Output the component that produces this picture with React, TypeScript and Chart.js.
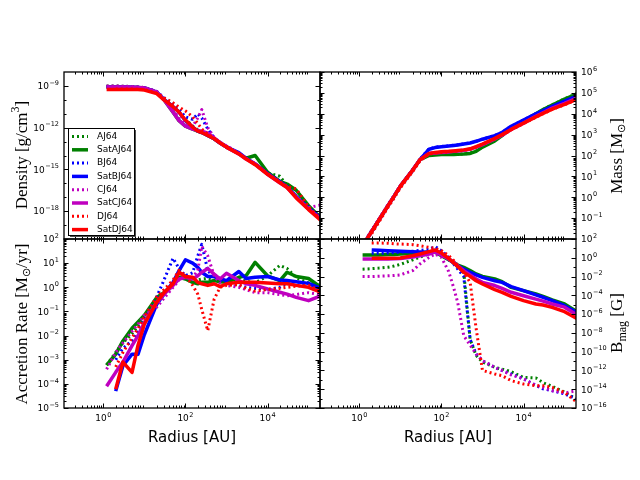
import React, { useEffect, useRef } from "react";
import { Chart, registerables } from "chart.js";

Chart.register(...registerables);

// radius grid shared by every profile [AU]
const radius = [1.2, 2, 3, 5, 7, 10, 20, 30, 50, 70, 100, 150, 200, 250, 350, 500, 700, 1e3, 2e3, 3e3, 5e3, 1e4, 2e4, 3e4, 5e4, 1e5, 2e5];

const runs = ["AJ64", "SatAJ64", "BJ64", "SatBJ64", "CJ64", "SatCJ64", "DJ64", "SatDJ64"];
const runColors = ["#008000", "#008000", "#0000ff", "#0000ff", "#bf00bf", "#bf00bf", "#ff0000", "#ff0000"];

// density [g/cm^3]
const densAJ64 = [1e-9, 1e-9, 9.5e-10, 9e-10, 8.5e-10, 7.5e-10, 3.8e-10, 1.2e-10, 3.5e-11, 1.4e-11, 4e-12, 1.3e-12, 7e-13, 5e-13, 3e-13, 1.6e-13, 8e-14, 4.5e-14, 1.3e-14, 6e-15, 2.5e-15, 5.6e-16, 3.2e-16, 7e-17, 1.2e-17, 1.8e-18, 4e-19];
const densSatAJ64 = [8.3e-10, 8.3e-10, 8.3e-10, 7.9e-10, 7.6e-10, 7.1e-10, 3.5e-10, 1e-10, 1.3e-11, 3.2e-12, 1.3e-12, 7.9e-13, 5.6e-13, 4.5e-13, 2.8e-13, 1.6e-13, 7.9e-14, 4e-14, 1.4e-14, 6.3e-15, 1e-14, 6.3e-16, 1.4e-16, 8.9e-17, 3.2e-17, 2.5e-18, 3.2e-19];
const densBJ64 = [9e-10, 9e-10, 9e-10, 8.5e-10, 8e-10, 7.5e-10, 4e-10, 1.4e-10, 4.5e-11, 2e-11, 6e-12, 4e-12, 1e-11, 5e-12, 8e-13, 1.8e-13, 9e-14, 4.5e-14, 1.4e-14, 6.3e-15, 2.5e-15, 5.6e-16, 1.4e-16, 6e-17, 1.2e-17, 1.8e-18, 3e-19];
const densSatBJ64 = [8.3e-10, 8.3e-10, 8.3e-10, 7.9e-10, 7.6e-10, 7.1e-10, 3.5e-10, 1.1e-10, 3.2e-11, 1.3e-11, 3.2e-12, 1.1e-12, 5.6e-13, 4.5e-13, 2.8e-13, 1.6e-13, 7.9e-14, 4e-14, 1.6e-14, 6.3e-15, 2.5e-15, 5e-16, 1.3e-16, 5.6e-17, 1.1e-17, 1.6e-18, 3.2e-19];
const densCJ64 = [1e-9, 1e-9, 9.5e-10, 9e-10, 8.5e-10, 7.5e-10, 4e-10, 1.3e-10, 2e-11, 5e-12, 2e-12, 1.2e-12, 5e-12, 2e-11, 1e-12, 2e-13, 9e-14, 5e-14, 1.5e-14, 6.3e-15, 2.2e-15, 4.5e-16, 1.1e-16, 5e-17, 1e-17, 1.8e-18, 2.8e-18];
const densSatCJ64 = [8.3e-10, 8.3e-10, 8.3e-10, 7.9e-10, 7.6e-10, 7.1e-10, 3.5e-10, 1e-10, 1.3e-11, 3.2e-12, 1.3e-12, 7.9e-13, 6.3e-13, 5.6e-13, 4e-13, 1.8e-13, 7.9e-14, 4e-14, 1.3e-14, 5.6e-15, 2.5e-15, 4.5e-16, 1.1e-16, 5e-17, 1e-17, 1.4e-18, 2.8e-19];
const densDJ64 = [null, 6e-10, 6e-10, 6e-10, 5.8e-10, 5.5e-10, 3e-10, 1.4e-10, 6e-11, 3e-11, 1.6e-11, 6e-12, 2e-12, 8e-13, 3.5e-13, 1.8e-13, 9e-14, 4.5e-14, 1.4e-14, 6e-15, 2.5e-15, 5e-16, 1.3e-16, 6e-17, 4e-17, 2e-18, 2.5e-19];
const densSatDJ64 = [5.6e-10, 5.6e-10, 5.6e-10, 5.6e-10, 5.6e-10, 5e-10, 2.8e-10, 1e-10, 3.2e-11, 1.3e-11, 3.5e-12, 1.1e-12, 5.6e-13, 4.5e-13, 2.8e-13, 1.6e-13, 7.9e-14, 4e-14, 1.3e-14, 5.6e-15, 2.2e-15, 4.5e-16, 1.1e-16, 5e-17, 8.9e-18, 1.3e-18, 2.2e-19];

// enclosed mass [Msun]
const massAJ64 = [5e-3, 2.5e-2, 8.5e-2, 0.42, 1.15, 3.5, 21, 65, 105, 110, 112, 114, 116, 118, 120, 130, 165, 260, 520, 910, 2000, 4500, 1e4, 1.6e4, 2.7e4, 5.2e4, 9.2e4];
const massSatAJ64 = [4.7e-3, 2.3e-2, 8.1e-2, 0.4, 1.1, 3.4, 20, 63, 100, 107, 112, 112, 112, 115, 117, 126, 158, 251, 501, 891, 1995, 4467, 1e4, 1.58e4, 2.63e4, 5.01e4, 8.91e4];
const massBJ64 = [5e-3, 2.5e-2, 8.5e-2, 0.42, 1.15, 3.5, 21, 66, 210, 250, 270, 290, 310, 330, 360, 400, 480, 610, 900, 1270, 2500, 5000, 1e4, 1.4e4, 2.2e4, 3.9e4, 7e4];
const massSatBJ64 = [4.7e-3, 2.3e-2, 8.1e-2, 0.4, 1.1, 3.4, 20, 63, 200, 240, 263, 282, 302, 316, 355, 398, 479, 603, 891, 1259, 2512, 5012, 1e4, 1.41e4, 2.24e4, 3.98e4, 7.08e4];
const massCJ64 = [5.5e-3, 2.6e-2, 9e-2, 0.45, 1.2, 3.6, 21, 64, 128, 135, 143, 150, 160, 168, 180, 200, 250, 330, 620, 920, 1750, 3500, 7500, 1.1e4, 1.8e4, 3.1e4, 5.5e4];
const massSatCJ64 = [4.7e-3, 2.3e-2, 8.1e-2, 0.4, 1.1, 3.4, 20, 63, 126, 132, 141, 148, 158, 166, 178, 200, 251, 331, 631, 933, 1778, 3548, 7586, 1.12e4, 1.86e4, 3.16e4, 5.62e4];
const massDJ64 = [null, 1.8e-2, 6.5e-2, 0.33, 0.9, 2.8, 17, 55, 115, 130, 140, 148, 156, 165, 178, 200, 250, 340, 630, 950, 1700, 3400, 6800, 1e4, 1.6e4, 2.7e4, 4.8e4];
const massSatDJ64 = [4.7e-3, 2.3e-2, 8.1e-2, 0.4, 1.1, 3.4, 20, 63, 126, 141, 151, 158, 166, 174, 186, 209, 263, 355, 661, 1000, 1778, 3548, 7079, 1.05e4, 1.66e4, 2.82e4, 5.01e4];

// accretion rate [Msun/yr]
const accAJ64 = [6e-4, 2e-3, 5e-3, 1.2e-2, 2.5e-2, 5e-2, 0.2, 0.5, 1.2, 2.5, 3, 2, 2, 2.2, 2.3, 2, 1.8, 2, 2.2, 1.8, 1.5, 3, 8, 6, 2.5, 1.5, 1.2];
const accSatAJ64 = [6e-4, 1.7e-3, 6e-3, 2e-2, 3.7e-2, 7e-2, 0.38, 0.6, 1.4, 2.6, 2.2, 1.6, 1.4, 1.6, 1.6, 1.9, 1.7, 1.6, 2.6, 3, 10.8, 3, 1.9, 4.2, 2.8, 2.3, 1];
const accBJ64 = [null, 1e-3, 3e-3, 6e-3, 1.5e-2, 5e-2, 0.4, 2, 16, 6, 3, 4, 20, 60, 5, 2.5, 2, 1.5, 1.2, 1, 0.9, 0.8, 1, 1.5, 1.2, 1.5, 0.7];
const accSatBJ64 = [null, 5e-5, 5.6e-4, 1.7e-3, 1.7e-3, 1.1e-2, 0.2, 0.52, 1.6, 4.9, 13.8, 10, 6.7, 4.2, 2.8, 2.8, 2.3, 1.9, 4.5, 2.3, 2.6, 2.8, 2, 1.9, 1.7, 1.45, 0.9];
const accCJ64 = [4e-4, 2e-3, 5e-3, 1.5e-2, 3e-2, 7e-2, 0.15, 0.35, 1, 2, 3, 2.5, 5, 50, 20, 3, 1.5, 1.2, 1, 0.8, 0.6, 0.6, 0.5, 0.45, 0.5, 0.6, 0.5];
const accSatCJ64 = [8e-5, 3e-4, 8e-4, 3.8e-3, 1e-2, 3.5e-2, 0.24, 0.52, 1.2, 2.2, 2.6, 2.2, 3, 4.2, 6, 3.5, 2.2, 3.8, 1.9, 1.4, 1.2, 0.85, 0.62, 0.52, 0.38, 0.28, 0.45];
const accDJ64 = [null, 5e-4, 2e-3, 8e-3, 2e-2, 6e-2, 0.4, 0.8, 2, 5, 3, 1.2, 0.52, 0.12, 0.016, 0.32, 1, 1.2, 1.3, 0.9, 0.7, 0.8, 0.9, 1, 1.1, 1.2, 0.7];
const accSatDJ64 = [null, 6e-5, 8e-4, 3e-4, 4e-3, 3e-2, 0.24, 0.6, 1.4, 4.2, 2.8, 2.6, 1.6, 1.4, 1.2, 1.4, 1.07, 1.4, 1.6, 1.6, 1.6, 1.5, 1.4, 1.4, 1.2, 1, 0.62];

// magnetic field strength [G]
const bAJ64 = [0.06, 0.07, 0.08, 0.1, 0.13, 0.2, 0.6, 1.2, 2.5, 4, 2, 0.6, 0.25, 0.1, 0.03, 2e-9, 4e-11, 8e-12, 2.1e-12, 1.4e-12, 7.4e-13, 1.8e-13, 1.6e-13, 5e-14, 2e-14, 5e-15, 8e-16];
const bSatAJ64 = [2, 2, 2, 2.2, 2.3, 2.5, 3, 3.5, 3.8, 4, 1.7, 0.63, 0.32, 0.17, 0.095, 0.043, 0.019, 0.0105, 5.5e-3, 2.9e-3, 7e-4, 3.2e-4, 1.4e-4, 7.9e-5, 3.2e-5, 1.2e-5, 1.8e-6];
const bBJ64 = [null, 3, 3, 3.2, 3.5, 4, 5, 6, 8, 16, 5.7, 1.1, 0.22, 0.063, 0.01, 2e-9, 5.6e-11, 1.1e-11, 2.1e-12, 1e-12, 4.2e-13, 1.3e-13, 2.5e-14, 1.1e-14, 7e-15, 3.2e-15, 9e-16];
const bSatBJ64 = [null, 6.8, 6.2, 5.7, 5.3, 5, 4.5, 4.2, 3.8, 4.5, 2.5, 0.74, 0.28, 0.14, 0.063, 0.028, 0.015, 8.3e-3, 3.6e-3, 2.4e-3, 8.4e-4, 3.2e-4, 1.1e-4, 6.2e-5, 2.7e-5, 7.9e-6, 1.5e-6];
const bCJ64 = [0.01, 0.01, 0.011, 0.012, 0.013, 0.015, 0.043, 0.22, 1.1, 2.5, 1.1, 0.035, 6e-4, 1.6e-5, 5e-9, 5e-10, 5.6e-11, 1.1e-11, 2.1e-12, 1e-12, 3.3e-13, 1.3e-13, 2.5e-14, 1.6e-14, 7e-15, 4e-15, 7e-15];
const bSatCJ64 = [0.75, 0.75, 0.75, 0.75, 0.8, 0.85, 1.2, 1.6, 2.5, 4, 2, 0.74, 0.32, 0.14, 0.043, 0.015, 5.5e-3, 2.4e-3, 1.1e-3, 5.6e-4, 2.1e-4, 9e-5, 4e-5, 2.4e-5, 1.2e-5, 5.5e-6, 8e-7];
const bDJ64 = [null, 37, 37, 35, 31, 29, 25, 19, 13, 10, 5.7, 1.7, 0.49, 0.14, 0.028, 2.4e-3, 3e-8, 1e-12, 4.2e-13, 2.8e-13, 8.1e-14, 3.6e-14, 2.4e-14, 2.4e-14, 1.6e-14, 4.7e-15, 4e-16];
const bSatDJ64 = [null, 0.9, 0.9, 0.9, 0.9, 0.95, 1.7, 2.5, 4.5, 6.8, 3.2, 0.87, 0.28, 0.12, 0.028, 0.0105, 3.6e-3, 1.6e-3, 4e-4, 2.1e-4, 7.9e-5, 2.7e-5, 1.2e-5, 9.3e-6, 5.2e-6, 1.8e-6, 3.5e-7];

// tick label exponents
const xLabelExps = [0, 2, 4];
const densityLabelExps = [-9, -12, -15, -18];
const massLabelExps = [-1, 0, 1, 2, 3, 4, 5, 6];
const accretionLabelExps = [-5, -4, -3, -2, -1, 0, 1, 2];
const bmagLabelExps = [-16, -14, -12, -10, -8, -6, -4, -2, 0, 2];

const X_MIN = 0.11;
const X_MAX = 1.9e5;

const INK = "#000";
const SANS = '"DejaVu Sans", sans-serif';
const SERIF = '"Liberation Serif", serif';

type Part = { text: string; size: number; dy: number };

type PanelCfg = {
  id: string;
  box: { left: number; top: number; right: number; bottom: number };
  yMin: number;
  yMax: number;
  yLabels: number[];
  yMinor: "subs" | "decades";
  ySide: "left" | "right";
  xLabels: boolean;
  legend: boolean;
  title: Part[];
  titleAt: [number, number];
  series: (number | null)[][];
};

function powerLabel(ctx: CanvasRenderingContext2D, e: number, x: number, y: number, align: string) {
  const exp = e < 0 ? "\u2212" + Math.abs(e) : String(e);
  ctx.font = `9px ${SANS}`;
  const wBase = ctx.measureText("10").width;
  ctx.font = `6.5px ${SANS}`;
  const wExp = ctx.measureText(exp).width;
  const w = wBase + 0.5 + wExp;
  const left = align === "left" ? x : align === "right" ? x - w : x - w / 2;
  ctx.textAlign = "left";
  ctx.textBaseline = "alphabetic";
  ctx.font = `9px ${SANS}`;
  ctx.fillText("10", left, y + 3.3);
  ctx.font = `6.5px ${SANS}`;
  ctx.fillText(exp, left + wBase + 0.5, y - 1.2);
}

function richText(ctx: CanvasRenderingContext2D, parts: Part[], family: string, cx: number, cy: number, vertical: boolean) {
  ctx.save();
  ctx.translate(cx, cy);
  if (vertical) ctx.rotate(-Math.PI / 2);
  ctx.textAlign = "left";
  ctx.textBaseline = "alphabetic";
  let w = 0;
  for (const p of parts) {
    ctx.font = `${p.size}px ${family}`;
    w += ctx.measureText(p.text).width;
  }
  let x = -w / 2;
  for (const p of parts) {
    ctx.font = `${p.size}px ${family}`;
    ctx.fillText(p.text, x, p.dy);
    x += ctx.measureText(p.text).width;
  }
  ctx.restore();
}

// matplotlib-like frame: inward ticks on all four sides, power-of-ten labels, titles, legend
const axesPlugin = (cfg: PanelCfg) => ({
  id: "mplAxes" + cfg.id,
  afterDatasetsDraw(chart: any) {
    const { ctx, chartArea: a } = chart;
    const xs = chart.scales.x;
    const ys = chart.scales.y;
    ctx.save();
    ctx.strokeStyle = INK;
    ctx.lineWidth = 1;
    ctx.setLineDash([]);
    ctx.beginPath();
    const vTick = (v: number, len: number) => {
      const px = Math.round(xs.getPixelForValue(v)) + 0.5;
      ctx.moveTo(px, a.bottom);
      ctx.lineTo(px, a.bottom - len);
      ctx.moveTo(px, a.top);
      ctx.lineTo(px, a.top + len);
    };
    const hTick = (v: number, len: number) => {
      const py = Math.round(ys.getPixelForValue(v)) + 0.5;
      ctx.moveTo(a.left, py);
      ctx.lineTo(a.left + len, py);
      ctx.moveTo(a.right, py);
      ctx.lineTo(a.right - len, py);
    };
    xLabelExps.forEach((e) => vTick(10 ** e, 4.5));
    for (let e = -1; e <= 5; e++) {
      for (let m = 2; m <= 9; m++) {
        const v = m * 10 ** e;
        if (v > X_MIN && v < X_MAX) vTick(v, 2.5);
      }
    }
    const eLo = Math.round(Math.log10(cfg.yMin));
    const eHi = Math.round(Math.log10(cfg.yMax));
    cfg.yLabels.forEach((e) => hTick(10 ** e, 4.5));
    for (let e = eLo; e <= eHi; e++) {
      if (cfg.yMinor === "decades") {
        if (!cfg.yLabels.includes(e) && e > eLo && e < eHi) hTick(10 ** e, 2.5);
      } else if (e < eHi) {
        for (let m = 2; m <= 9; m++) hTick(m * 10 ** e, 2.5);
      }
    }
    ctx.stroke();
    ctx.lineWidth = 1.3;
    ctx.strokeRect(a.left, a.top, a.right - a.left, a.bottom - a.top);

    ctx.fillStyle = INK;
    cfg.yLabels.forEach((e) => {
      const py = ys.getPixelForValue(10 ** e);
      if (cfg.ySide === "left") powerLabel(ctx, e, a.left - 5, py, "right");
      else powerLabel(ctx, e, a.right + 5, py, "left");
    });
    if (cfg.xLabels) {
      xLabelExps.forEach((e) => powerLabel(ctx, e, xs.getPixelForValue(10 ** e), a.bottom + 10, "center"));
      richText(ctx, [{ text: "Radius [AU]", size: 15, dy: 5.5 }], SANS, (a.left + a.right) / 2, 436, false);
    }
    richText(ctx, cfg.title, SERIF, cfg.titleAt[0], cfg.titleAt[1], true);

    if (cfg.legend) {
      const lx = 68;
      const ly = 128;
      const lw = 66;
      const lh = 107;
      ctx.fillStyle = "#4d4d4d";
      ctx.fillRect(lx + 2, ly + 2, lw, lh);
      ctx.fillStyle = "#fff";
      ctx.fillRect(lx, ly, lw, lh);
      ctx.strokeStyle = INK;
      ctx.lineWidth = 1;
      ctx.strokeRect(lx + 0.5, ly + 0.5, lw, lh);
      chart.data.datasets.forEach((ds: any, i: number) => {
        const y = ly + 8.5 + i * 13.3;
        ctx.beginPath();
        ctx.setLineDash(ds.borderDash);
        ctx.lineWidth = ds.borderWidth;
        ctx.strokeStyle = ds.borderColor;
        ctx.moveTo(lx + 4, y);
        ctx.lineTo(lx + 20, y);
        ctx.stroke();
        ctx.setLineDash([]);
        ctx.fillStyle = INK;
        ctx.font = `9px ${SANS}`;
        ctx.textAlign = "left";
        ctx.textBaseline = "middle";
        ctx.fillText(ds.label, lx + 29, y);
      });
    }
    ctx.restore();
  },
});

function buildDatasets(series: (number | null)[][]) {
  return series.map((vals, i) => {
    const solid = i % 2 === 1;
    return {
      label: runs[i],
      data: radius.map((r, j) => ({ x: r, y: vals[j] })),
      borderColor: runColors[i],
      borderWidth: solid ? 3.5 : 3,
      borderDash: solid ? [] : [2, 3],
      borderJoinStyle: "round" as const,
      pointRadius: 0,
      tension: 0,
      fill: false,
      order: series.length - i,
    };
  });
}

const panels: PanelCfg[] = [
  {
    id: "density",
    box: { left: 64, top: 72, right: 320, bottom: 239 },
    yMin: 1e-20,
    yMax: 1e-8,
    yLabels: densityLabelExps,
    yMinor: "decades",
    ySide: "left",
    xLabels: false,
    legend: true,
    title: [
      { text: "Density [g/cm", size: 17, dy: 5.5 },
      { text: "3", size: 12, dy: -2.5 },
      { text: "]", size: 17, dy: 5.5 },
    ],
    titleAt: [21, 155],
    series: [densAJ64, densSatAJ64, densBJ64, densSatBJ64, densCJ64, densSatCJ64, densDJ64, densSatDJ64],
  },
  {
    id: "mass",
    box: { left: 320, top: 72, right: 576, bottom: 239 },
    yMin: 1e-2,
    yMax: 1e6,
    yLabels: massLabelExps,
    yMinor: "subs",
    ySide: "right",
    xLabels: false,
    legend: false,
    title: [
      { text: "Mass [M", size: 17, dy: 5.5 },
      { text: "\u2299", size: 11, dy: 9 },
      { text: "]", size: 17, dy: 5.5 },
    ],
    titleAt: [616, 156],
    series: [massAJ64, massSatAJ64, massBJ64, massSatBJ64, massCJ64, massSatCJ64, massDJ64, massSatDJ64],
  },
  {
    id: "accretion",
    box: { left: 64, top: 239, right: 320, bottom: 408 },
    yMin: 1e-5,
    yMax: 1e2,
    yLabels: accretionLabelExps,
    yMinor: "subs",
    ySide: "left",
    xLabels: true,
    legend: false,
    title: [
      { text: "Accretion Rate [M", size: 17, dy: 5.5 },
      { text: "\u2299", size: 11, dy: 9 },
      { text: "/yr]", size: 17, dy: 5.5 },
    ],
    titleAt: [21, 324],
    series: [accAJ64, accSatAJ64, accBJ64, accSatBJ64, accCJ64, accSatCJ64, accDJ64, accSatDJ64],
  },
  {
    id: "bmag",
    box: { left: 320, top: 239, right: 576, bottom: 408 },
    yMin: 1e-16,
    yMax: 1e2,
    yLabels: bmagLabelExps,
    yMinor: "decades",
    ySide: "right",
    xLabels: true,
    legend: false,
    title: [
      { text: "B", size: 17, dy: 5.5 },
      { text: "mag", size: 12, dy: 10 },
      { text: " [G]", size: 17, dy: 5.5 },
    ],
    titleAt: [616, 323],
    series: [bAJ64, bSatAJ64, bBJ64, bSatBJ64, bCJ64, bSatCJ64, bDJ64, bSatDJ64],
  },
];

const Panel: React.FC<{ cfg: PanelCfg }> = ({ cfg }) => {
  const canvasRef = useRef<HTMLCanvasElement | null>(null);

  useEffect(() => {
    if (!canvasRef.current) return;
    const b = cfg.box;
    const chart = new Chart(canvasRef.current, {
      type: "line",
      data: { datasets: buildDatasets(cfg.series) as any },
      options: {
        responsive: false,
        animation: false,
        layout: { padding: { left: b.left, top: b.top, right: 640 - b.right, bottom: 480 - b.bottom } },
        plugins: { legend: { display: false }, tooltip: { enabled: false } },
        scales: {
          x: { type: "logarithmic", min: X_MIN, max: X_MAX, display: false },
          y: { type: "logarithmic", min: cfg.yMin, max: cfg.yMax, display: false },
        },
      },
      plugins: [axesPlugin(cfg)],
    });
    return () => chart.destroy();
  }, [cfg]);

  return <canvas ref={canvasRef} width={640} height={480} style={{ position: "absolute", left: 0, top: 0 }} />;
};

export default function App() {
  return (
    <div style={{ position: "absolute", left: 0, top: 0, width: 640, height: 480, background: "#fff" }}>
      {panels.map((p) => (
        <Panel key={p.id} cfg={p} />
      ))}
    </div>
  );
}
